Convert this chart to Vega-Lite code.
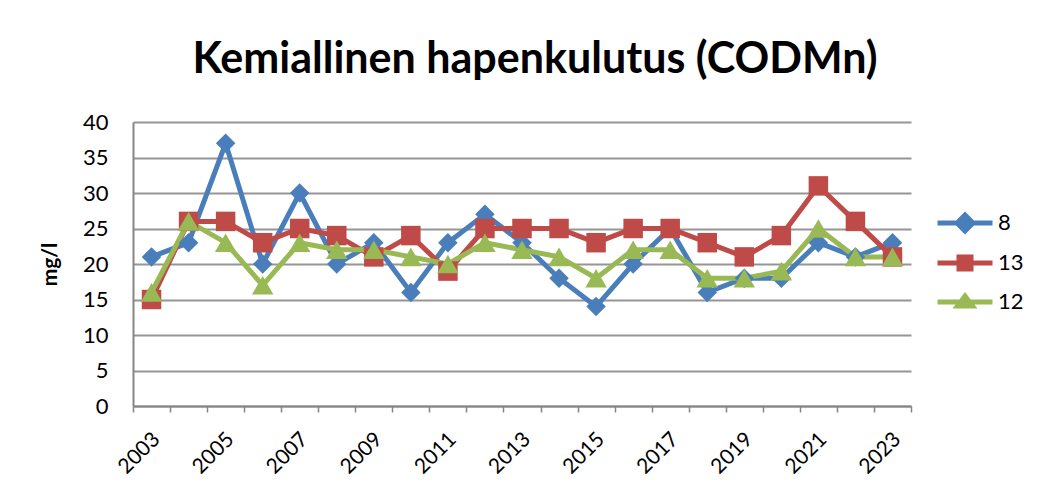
{
  "$schema": "https://vega.github.io/schema/vega-lite/v6.json",
  "autosize": "none",
  "padding": {"left": 133, "top": 122, "right": 141, "bottom": 89},
  "width": 778,
  "height": 284,
  "background": "white",
  "title": {
    "text": "Kemiallinen hapenkulutus (CODMn)",
    "font": "Lato",
    "fontSize": 43,
    "fontWeight": "bold",
    "color": "#000000",
    "anchor": "middle",
    "dx": 13,
    "offset": 29
  },
  "data": {
    "values": [
      {"year": 2003, "series": "8", "value": 21}, {"year": 2004, "series": "8", "value": 23}, {"year": 2005, "series": "8", "value": 37},
      {"year": 2006, "series": "8", "value": 20}, {"year": 2007, "series": "8", "value": 30}, {"year": 2008, "series": "8", "value": 20},
      {"year": 2009, "series": "8", "value": 23}, {"year": 2010, "series": "8", "value": 16}, {"year": 2011, "series": "8", "value": 23},
      {"year": 2012, "series": "8", "value": 27}, {"year": 2013, "series": "8", "value": 23}, {"year": 2014, "series": "8", "value": 18},
      {"year": 2015, "series": "8", "value": 14}, {"year": 2016, "series": "8", "value": 20}, {"year": 2017, "series": "8", "value": 25},
      {"year": 2018, "series": "8", "value": 16}, {"year": 2019, "series": "8", "value": 18}, {"year": 2020, "series": "8", "value": 18},
      {"year": 2021, "series": "8", "value": 23}, {"year": 2022, "series": "8", "value": 21}, {"year": 2023, "series": "8", "value": 23},
      {"year": 2003, "series": "13", "value": 15}, {"year": 2004, "series": "13", "value": 26}, {"year": 2005, "series": "13", "value": 26},
      {"year": 2006, "series": "13", "value": 23}, {"year": 2007, "series": "13", "value": 25}, {"year": 2008, "series": "13", "value": 24},
      {"year": 2009, "series": "13", "value": 21}, {"year": 2010, "series": "13", "value": 24}, {"year": 2011, "series": "13", "value": 19},
      {"year": 2012, "series": "13", "value": 25}, {"year": 2013, "series": "13", "value": 25}, {"year": 2014, "series": "13", "value": 25},
      {"year": 2015, "series": "13", "value": 23}, {"year": 2016, "series": "13", "value": 25}, {"year": 2017, "series": "13", "value": 25},
      {"year": 2018, "series": "13", "value": 23}, {"year": 2019, "series": "13", "value": 21}, {"year": 2020, "series": "13", "value": 24},
      {"year": 2021, "series": "13", "value": 31}, {"year": 2022, "series": "13", "value": 26}, {"year": 2023, "series": "13", "value": 21},
      {"year": 2003, "series": "12", "value": 16}, {"year": 2004, "series": "12", "value": 26}, {"year": 2005, "series": "12", "value": 23},
      {"year": 2006, "series": "12", "value": 17}, {"year": 2007, "series": "12", "value": 23}, {"year": 2008, "series": "12", "value": 22},
      {"year": 2009, "series": "12", "value": 22}, {"year": 2010, "series": "12", "value": 21}, {"year": 2011, "series": "12", "value": 20},
      {"year": 2012, "series": "12", "value": 23}, {"year": 2013, "series": "12", "value": 22}, {"year": 2014, "series": "12", "value": 21},
      {"year": 2015, "series": "12", "value": 18}, {"year": 2016, "series": "12", "value": 22}, {"year": 2017, "series": "12", "value": 22},
      {"year": 2018, "series": "12", "value": 18}, {"year": 2019, "series": "12", "value": 18}, {"year": 2020, "series": "12", "value": 19},
      {"year": 2021, "series": "12", "value": 25}, {"year": 2022, "series": "12", "value": 21}, {"year": 2023, "series": "12", "value": 21}
    ]
  },
  "encoding": {
    "x": {
      "field": "year",
      "type": "ordinal",
      "scale": {"type": "band", "paddingInner": 0, "paddingOuter": 0},
      "axis": {
        "title": null,
        "tickBand": "extent",
        "labelExpr": "datum.value % 2 == 1 ? datum.label : ''",
        "labelAngle": -45,
        "labelAlign": "right",
        "labelBaseline": "top",
        "labelFont": "Lato",
        "labelFontSize": 21,
        "labelColor": "#000000",
        "labelPadding": 16,
        "labelOffset": -3,
        "labelOverlap": false,
        "domainColor": "#868686",
        "domainWidth": 2,
        "tickColor": "#868686",
        "tickWidth": 1.5,
        "tickSize": 6,
        "grid": false
      }
    },
    "y": {
      "field": "value",
      "type": "quantitative",
      "scale": {"domain": [0, 40], "nice": false},
      "axis": {
        "title": "mg/l",
        "titleFont": "Lato",
        "titleFontSize": 21,
        "titleFontWeight": "bold",
        "titleColor": "#000000",
        "titlePadding": 22,
        "values": [0, 5, 10, 15, 20, 25, 30, 35, 40],
        "labelFont": "Lato",
        "labelFontSize": 22,
        "labelColor": "#000000",
        "labelPadding": 25,
        "ticks": false,
        "domainColor": "#868686",
        "domainWidth": 2,
        "grid": true,
        "gridColor": "#959595",
        "gridWidth": 2
      }
    },
    "color": {
      "field": "series",
      "type": "nominal",
      "scale": {"domain": ["8", "13", "12"], "range": ["#4A7EBB", "#BE4B48", "#98B954"]}
    }
  },
  "layer": [
    {
      "mark": {"type": "line", "strokeWidth": 5},
      "encoding": {
        "color": {
          "field": "series",
          "type": "nominal",
          "scale": {"domain": ["8", "13", "12"], "range": ["#4A7EBB", "#BE4B48", "#98B954"]},
          "legend": {
            "title": null,
            "orient": "none",
            "legendX": 821,
            "legendY": 90,
            "padding": 0,
            "symbolSize": 400,
            "rowPadding": 17,
            "labelFont": "Lato",
            "labelFontSize": 22,
            "labelColor": "#000000",
            "labelOffset": 22,
            "encode": {
              "symbols": {
                "update": {
                  "shape": {"signal": "datum.value == '8' ? 'M-2.75,-0.25 H2.75 V0.25 H-2.75 Z M0,-1.15 L1.15,0 L0,1.15 L-1.15,0 Z' : datum.value == '13' ? 'M-2.75,-0.25 H2.75 V0.25 H-2.75 Z M-0.85,-0.85 H0.85 V0.85 H-0.85 Z' : 'M-2.75,-0.25 H2.75 V0.25 H-2.75 Z M0,-1.0 L1.25,0.65 L-1.25,0.65 Z'"},
                  "fill": {"scale": "color", "field": "value"},
                  "stroke": {"value": "transparent"},
                  "strokeWidth": {"value": 0}
                }
              }
            }
          }
        }
      }
    },
    {
      "transform": [{"filter": "datum.series == '8'"}],
      "mark": {"type": "point", "shape": "diamond", "filled": true, "opacity": 1, "size": 380}
    },
    {
      "transform": [{"filter": "datum.series == '13'"}],
      "mark": {"type": "point", "shape": "square", "filled": true, "opacity": 1, "size": 380}
    },
    {
      "transform": [{"filter": "datum.series == '12'"}],
      "mark": {"type": "point", "shape": "triangle-up", "filled": true, "opacity": 1, "size": 460}
    }
  ],
  "config": {
    "view": {"stroke": null}
  }
}
